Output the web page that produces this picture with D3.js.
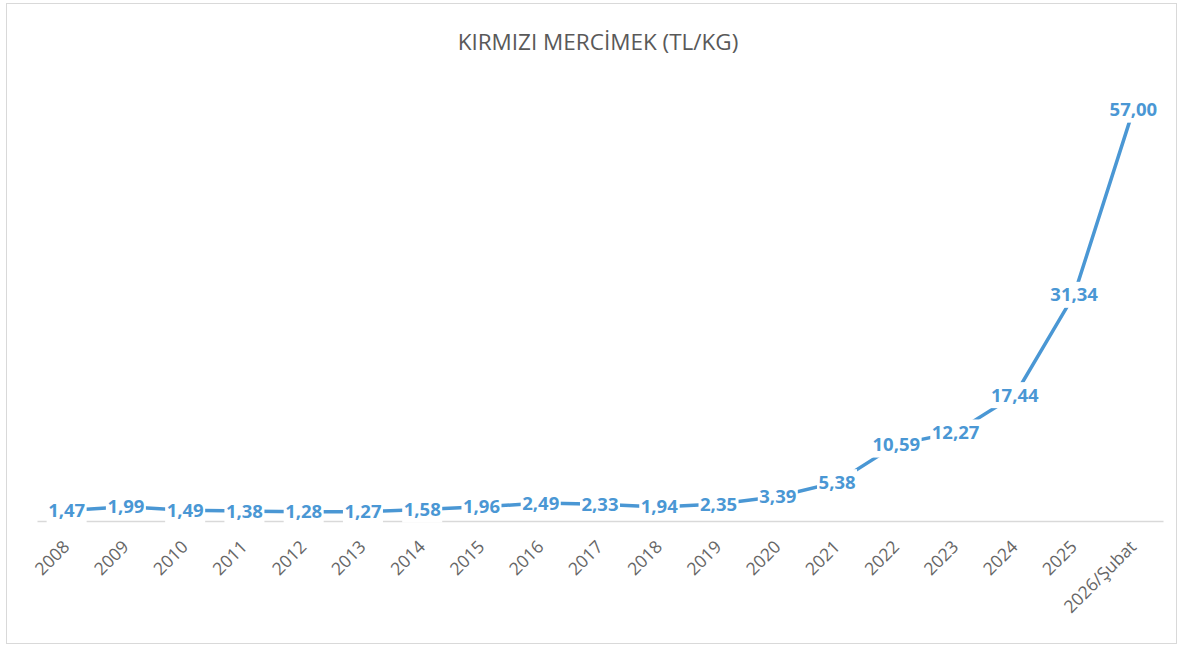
<!DOCTYPE html>
<html>
<head>
<meta charset="utf-8">
<script src="https://cdn.jsdelivr.net/npm/d3@7"></script>
<style>
  body { margin: 0; background: #fff; }
  svg { display: block; font-family: "Open Sans", "Liberation Sans", sans-serif; }
</style>
</head>
<body>
<svg id="chart" width="1181" height="645"></svg>
<script>
const categories = ["2008", "2009", "2010", "2011", "2012", "2013", "2014", "2015", "2016", "2017",
  "2018", "2019", "2020", "2021", "2022", "2023", "2024", "2025", "2026/Şubat"];
const prices = [1.47, 1.99, 1.49, 1.38, 1.28, 1.27, 1.58, 1.96, 2.49, 2.33,
  1.94, 2.35, 3.39, 5.38, 10.59, 12.27, 17.44, 31.34, 57.0];
const title = "KIRMIZI MERCİMEK (TL/KG)";

const width = 1181, height = 645;
const padding = { left: 37, right: 18, top: 88, bottom: 124 };
const svg = d3.select("#chart");
const blue = "#4a97d4";

// chart frame
svg.append("rect")
  .attr("x", 6.5).attr("y", 3.5)
  .attr("width", width - 11).attr("height", height - 5)
  .attr("fill", "#fff").attr("stroke", "#d9d9d9");

svg.append("text")
  .attr("x", 598).attr("y", 50)
  .attr("text-anchor", "middle")
  .attr("font-size", 22.5)
  .attr("fill", "#595959")
  .text(title);

const data = categories.map((c, i) => ({ label: c, value: prices[i] }));

const x = d3.scaleBand()
  .domain(categories)
  .range([padding.left, width - padding.right]);
const y = d3.scaleLinear()
  .domain([0, 60])
  .range([height - padding.bottom, padding.top]);
const cx = (d) => x(d.label) + x.bandwidth() / 2;

const xAxis = (g) =>
  g.attr("transform", `translate(0,${y(0)})`)
    .call(d3.axisBottom(x).tickSize(0).tickPadding(0))
    .call((g) => g.attr("font-family", null).attr("font-size", null))
    .call((g) => g.select(".domain").attr("stroke", "#d9d9d9").attr("stroke-width", 1.3))
    .call((g) =>
      g.selectAll("text")
        .attr("font-size", 17.5)
        .attr("fill", "#666")
        .attr("dy", 0)
        .attr("transform", "translate(4,27) rotate(-45)")
        .style("text-anchor", "end")
    );

svg.append("g").attr("class", "x-axis").call(xAxis);

const line = d3.line().x(cx).y((d) => y(d.value));
svg.append("path")
  .datum(data)
  .attr("fill", "none")
  .attr("stroke", blue)
  .attr("stroke-width", 3.5)
  .attr("d", line);

const fmt = (v) => v.toFixed(2).replace(".", ",");
const labels = svg.append("g").attr("class", "labels")
  .selectAll("g")
  .data(data)
  .join("g")
  .attr("transform", (d) => `translate(${cx(d)},${y(d.value)})`);

labels.append("text")
  .attr("text-anchor", "middle")
  .attr("dy", "0.35em")
  .attr("font-size", 18.5)
  .attr("font-weight", "bold")
  .attr("fill", blue)
  .text((d) => fmt(d.value))
  .each(function () {
    const b = this.getBBox();
    d3.select(this.parentNode).insert("rect", "text")
      .attr("x", b.x - 1.5).attr("y", -13)
      .attr("width", b.width + 3).attr("height", 26)
      .attr("fill", "#fff");
  });
</script>
</body>
</html>
